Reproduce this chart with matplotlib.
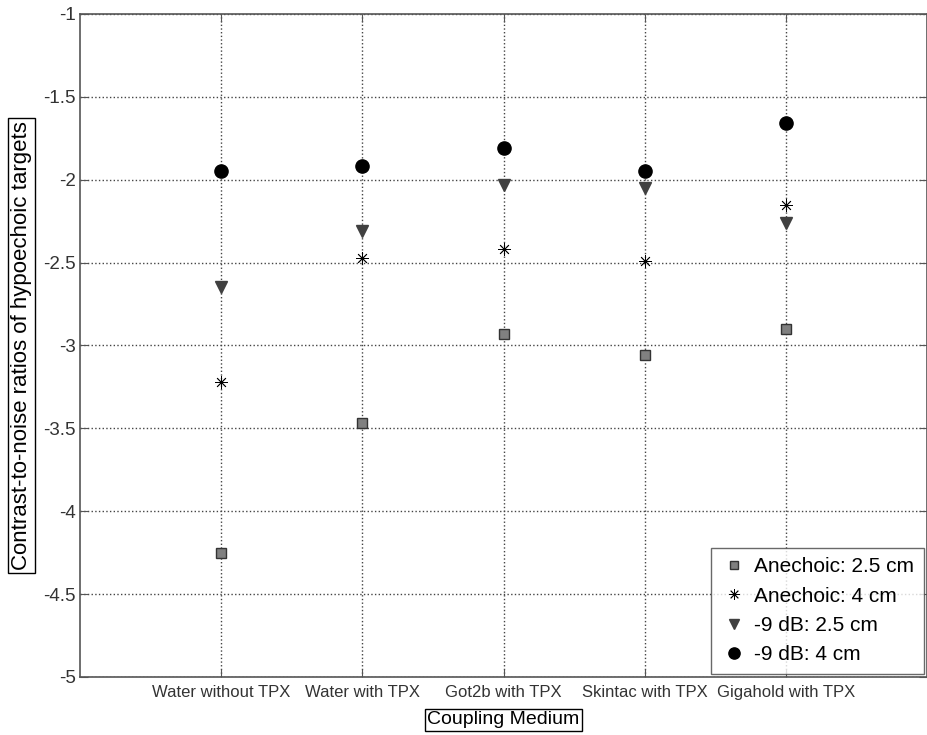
import matplotlib
matplotlib.use('Agg')
import matplotlib.pyplot as plt
from matplotlib.ticker import FormatStrFormatter

plt.rcParams['font.family'] = ['Liberation Sans', 'DejaVu Sans']

# data
media = ['Water without TPX', 'Water with TPX', 'Got2b with TPX',
         'Skintac with TPX', 'Gigahold with TPX']
anechoic_25 = [-4.25, -3.47, -2.93, -3.06, -2.90]
anechoic_4 = [-3.22, -2.47, -2.42, -2.49, -2.15]
db9_25 = [-2.65, -2.31, -2.03, -2.05, -2.26]
db9_4 = [-1.95, -1.92, -1.81, -1.95, -1.66]
y_ticks = [-5, -4.5, -4, -3.5, -3, -2.5, -2, -1.5, -1]

x = list(range(1, len(media) + 1))

fig = plt.figure(figsize=(9.27, 7.35), dpi=100)
ax = fig.add_axes([0.0863, 0.079, 0.9137, 0.902])

ax.plot(x, anechoic_25, linestyle='none', marker='s', markersize=7,
        markerfacecolor='#808080', markeredgecolor='#333333', markeredgewidth=1,
        label='Anechoic: 2.5 cm')
ax.plot(x, anechoic_4, linestyle='none', marker=(8, 2, 0), markersize=9,
        color='black', markeredgewidth=0.6, label='Anechoic: 4 cm')
ax.plot(x, db9_25, linestyle='none', marker='v', markersize=9,
        markerfacecolor='#404040', markeredgecolor='#404040', label='-9 dB: 2.5 cm')
ax.plot(x, db9_4, linestyle='none', marker='o', markersize=9.5,
        color='black', label='-9 dB: 4 cm')

ax.set_xlim(0, 6)
ax.set_ylim(-5, -1)
ax.set_xticks(x)
ax.set_xticklabels(media)
ax.set_yticks(y_ticks)
ax.yaxis.set_major_formatter(FormatStrFormatter('%g'))

ax.grid(True, linestyle=':', color='#444444', linewidth=1)
ax.tick_params(direction='in', length=6, top=True, right=True,
               colors='#555555', labelcolor='#333333')
ax.tick_params(axis='x', labelsize=12, pad=6)
ax.tick_params(axis='y', labelsize=13.5, pad=3)
for s in ax.spines.values():
    s.set_color('#555555')
    s.set_linewidth(1.2)

box = dict(boxstyle='square,pad=0.12', facecolor='white', edgecolor='black', linewidth=1)
ax.set_xlabel('Coupling Medium', fontsize=14, bbox=box, labelpad=8)
ax.set_ylabel('Contrast-to-noise ratios of hypoechoic targets', fontsize=16,
              bbox=box, labelpad=8)

leg = ax.legend(loc='lower right', fontsize=15, frameon=True, fancybox=False,
                edgecolor='#444444', borderaxespad=0.15, handletextpad=0.35,
                labelspacing=0.5, handlelength=1.3, borderpad=0.45, markerscale=0.85)
leg.get_frame().set_linewidth(1)

fig.savefig('out.png', dpi=100)
